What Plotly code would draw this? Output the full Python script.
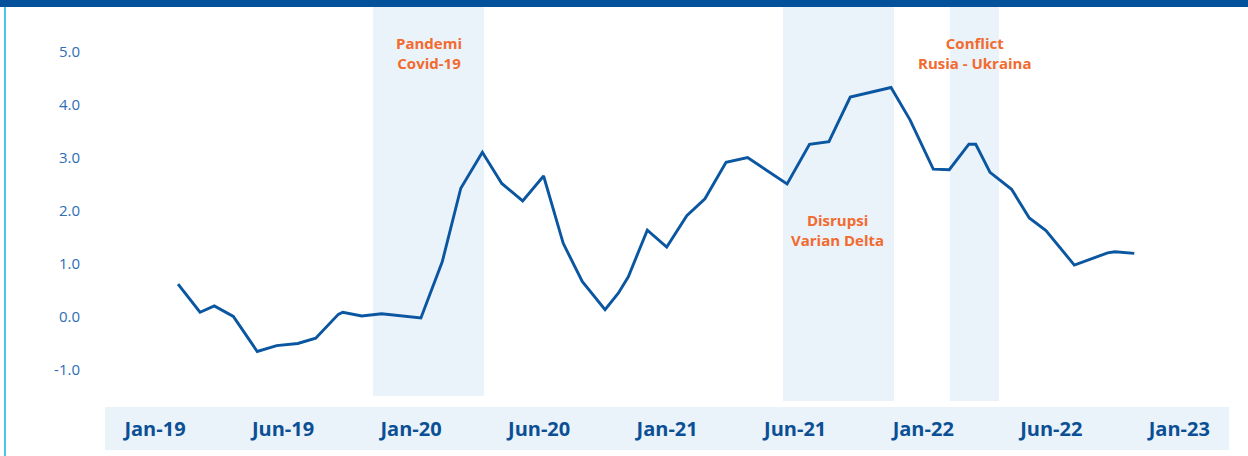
import plotly.graph_objects as go

# Month position (0 = Jan-19, 6 units between labels) and value
month_pos = [1.08, 2.11, 2.78, 3.67, 4.79, 5.70, 6.69, 7.53, 8.59, 8.80, 9.69, 10.62,
             12.46, 13.46, 14.33, 15.34, 16.25, 17.23, 18.21, 19.13, 20.02, 21.09,
             21.71, 22.18, 23.07, 23.98, 24.92, 25.77, 26.76, 27.77, 29.62, 30.67,
             31.58, 32.58, 34.49, 35.38, 36.47, 37.22, 38.14, 38.46, 39.13, 40.14,
             40.97, 41.75, 43.08, 44.64, 44.98, 45.89]
values = [0.62, 0.09, 0.21, 0.01, -0.65, -0.54, -0.50, -0.40, 0.05, 0.09, 0.02, 0.06,
          -0.02, 1.04, 2.43, 3.11, 2.52, 2.19, 2.66, 1.39, 0.67, 0.14,
          0.45, 0.76, 1.64, 1.32, 1.91, 2.23, 2.92, 3.01, 2.51, 3.26,
          3.31, 4.15, 4.33, 3.72, 2.79, 2.78, 3.26, 3.26, 2.73, 2.41,
          1.87, 1.63, 0.98, 1.21, 1.23, 1.20]

tick_pos = [0, 6, 12, 18, 24, 30, 36, 42, 48]
tick_labels = ["Jan-19", "Jun-19", "Jan-20", "Jun-20", "Jan-21", "Jun-21", "Jan-22", "Jun-22", "Jan-23"]
y_ticks = [-1, 0, 1, 2, 3, 4, 5]
y_tick_labels = ["-1.0", "0.0", "1.0", "2.0", "3.0", "4.0", "5.0"]

# shaded periods: (start, end, bottom)
periods = [(10.22, 15.42, -1.49), (29.43, 34.63, -1.585), (37.25, 39.55, -1.585)]
period_labels = ["Pandemi<br>Covid-19", "Disrupsi<br>Varian Delta", "Conflict<br>Rusia - Ukraina"]
label_pos = [(12.82, 4.99), (32.0, 1.65), (38.38, 4.99)]

W, H = 1248, 456
L, R, T, B = 105, 19, 7, 49
pw, ph = W - L - R, H - T - B
x_range = [-2.343, 50.328]
y_range = [-1.698, 5.849]

fig = go.Figure()
fig.add_trace(go.Scatter(x=month_pos, y=values, mode="lines",
                         line=dict(color="#0A56A0", width=2.9), hoverinfo="skip",
                         showlegend=False))

shapes = []
for x0, x1, yb in periods:
    shapes.append(dict(type="rect", xref="x", yref="y", x0=x0, x1=x1, y0=yb, y1=y_range[1],
                       fillcolor="#EAF2FA", line=dict(width=0), layer="below"))
# x-axis label band
shapes.append(dict(type="rect", xref="paper", yref="paper", x0=0, x1=1, y0=-43 / ph, y1=0,
                   fillcolor="#EAF2FA", line=dict(width=0), layer="below"))
# top dark bar
shapes.append(dict(type="rect", xref="paper", yref="paper", x0=-L / pw, x1=1 + R / pw,
                   y0=1, y1=1 + T / ph + 0.01, fillcolor="#03519B", line=dict(width=0)))
# left accent line
shapes.append(dict(type="line", xref="paper", yref="paper", x0=(5 - L) / pw, x1=(5 - L) / pw,
                   y0=-B / ph - 0.01, y1=1, line=dict(color="#4DC3F2", width=2)))

annotations = []
for txt, (ax, ay) in zip(period_labels, label_pos):
    annotations.append(dict(x=ax, y=ay, xref="x", yref="y", text=txt, showarrow=False,
                            font=dict(family="Open Sans", size=15, color="#F26A2E", weight="bold"),
                            align="center"))

fig.update_layout(
    width=W, height=H,
    margin=dict(l=L, r=R, t=T, b=B, autoexpand=False),
    paper_bgcolor="white", plot_bgcolor="rgba(0,0,0,0)",
    shapes=shapes, annotations=annotations,
    xaxis=dict(range=x_range, tickmode="array", tickvals=tick_pos, ticktext=tick_labels,
               showgrid=False, zeroline=False, showline=False, ticks="",
               tickfont=dict(family="Open Sans", size=20, color="#0B4F95", weight="bold"),
               ticklabelstandoff=8, fixedrange=True),
    yaxis=dict(range=y_range, tickmode="array", tickvals=y_ticks, ticktext=y_tick_labels,
               showgrid=False, zeroline=False, showline=False, ticks="",
               tickfont=dict(family="Open Sans", size=15, color="#2D6DB5"),
               ticklabelstandoff=24, fixedrange=True),
)

fig.write_html("out.html", config={"displayModeBar": False},
               post_script="document.body.style.margin='0';document.body.style.overflow='hidden';")
